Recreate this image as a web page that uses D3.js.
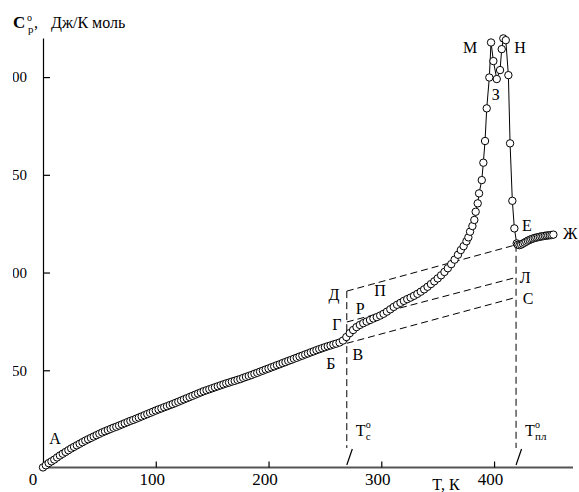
<!DOCTYPE html>
<html lang="ru">
<head>
    <meta charset="UTF-8">
    <title>Cp(T)</title>
</head>
<style>
    body { margin: 0; background: #fff; }
    svg text { font-family: "Liberation Serif", "Times New Roman", serif; fill: #000; }
    .axis--x path { stroke: #555; stroke-width: 2; }
    .axis--x line { stroke: #000; stroke-width: 1.2; }
    .axis--y path, .axis--y line { stroke: #000; stroke-width: 1.2; }
    .axis text { font-size: 17px; }
    .axis--y text { font-size: 15px; }
    .dash { fill: none; stroke: #000; stroke-width: 1; stroke-dasharray: 7,4; }
    .slash { stroke: #000; stroke-width: 1.2; }
    .curve { fill: none; stroke: #000; stroke-width: 1; }
    .pt { fill: #fff; stroke: #000; stroke-width: 1; }
    .lbl { font-size: 16px; }
</style>
<body>
<div id="chart"></div>
<script src="https://d3js.org/d3.v7.min.js"></script>
<script>
// temperature, K
var tempK = [0, 2.5, 5, 7.5, 10, 12.5, 15, 17.5, 20, 22.5, 25, 27.5, 30, 32.5, 35, 37.5, 40, 42.5, 45, 47.5,
    50, 52.5, 55, 57.5, 60, 62.5, 65, 67.5, 70, 72.5, 75, 77.5, 80, 82.5, 85, 87.5, 90, 92.5, 95, 97.5,
    100, 102.5, 105, 107.5, 110, 112.5, 115, 117.5, 120, 122.5, 125, 127.5, 130, 132.5, 135, 137.5, 140, 142.5, 145, 147.5,
    150, 152.5, 155, 157.5, 160, 162.5, 165, 167.5, 170, 172.5, 175, 177.5, 180, 182.5, 185, 187.5, 190, 192.5, 195, 197.5,
    200, 202.5, 205, 207.5, 210, 212.5, 215, 217.5, 220, 222.5, 225, 227.5, 230, 232.5, 235, 237.5, 240, 242.5, 245, 247.5,
    250, 252.5, 255, 257.5, 260, 263, 266, 269, 272, 275, 278, 281, 284, 287, 290, 293, 296, 299,
    302, 305, 308, 311, 314, 317, 320, 323, 326, 329, 332, 335, 338, 341, 344, 347, 350, 353, 356, 359,
    362, 365, 368, 370.5, 373, 375.5, 377.2, 378.7, 380.8, 382.5, 383.7, 385.5, 386.7, 389.1, 390.5, 392, 393.5, 395.8,
    397.3, 399.4, 402.4, 405.3, 406.8, 408.2, 410.4, 412.7, 414.2, 416.2, 418, 420.1,
    421, 422.5, 424, 425.5, 427, 428.5, 430, 431.5, 433, 434.5, 436, 437.5, 439, 440.5, 442, 443.5, 445, 446.5, 448, 449.5, 451, 452.6];

// heat capacity Cp, J/(K mol)
var cpVals = [0.3, 1.4, 2.5, 3.4, 4.3, 5.4, 6.4, 7.3, 8.2, 9.1, 10, 10.8, 11.6, 12.4, 13.2, 14, 14.7, 15.4, 16.1, 16.8,
    17.5, 18.2, 18.8, 19.4, 20, 20.6, 21.1, 21.7, 22.3, 22.9, 23.5, 24.1, 24.6, 25.2, 25.8, 26.4, 27, 27.6, 28.2, 28.8,
    29.4, 30, 30.5, 31.1, 31.6, 32.2, 32.7, 33.3, 33.9, 34.5, 35.1, 35.7, 36.3, 36.9, 37.5, 38.1, 38.7, 39.3, 39.8, 40.3,
    40.8, 41.3, 41.8, 42.3, 42.8, 43.3, 43.7, 44.2, 44.6, 45.1, 45.5, 46.1, 46.6, 47.1, 47.6, 48.2, 48.7, 49.3, 49.8, 50.4,
    50.9, 51.5, 52, 52.6, 53.1, 53.7, 54.2, 54.8, 55.3, 55.9, 56.4, 57, 57.5, 58.1, 58.6, 59.2, 59.7, 60.3, 60.8, 61.3,
    61.8, 62.3, 62.7, 63.2, 63.6, 64.2, 65.2, 67, 69, 70.6, 72.1, 73.2, 74.1, 74.9, 75.7, 76.5, 77.2, 78,
    78.9, 80, 81.2, 82.4, 83.5, 84.5, 85.5, 86.4, 87.2, 88.1, 89.1, 90.2, 91.4, 92.7, 94.1, 95.5, 97, 98.6, 100.3, 102.2,
    104.3, 106.6, 109.1, 111.5, 113.5, 116, 118, 120.9, 123.8, 126.9, 131.1, 135.4, 140.5, 147.3, 156.2, 167.3, 184, 199.8,
    217.7, 208.2, 199, 203.6, 214.3, 219.8, 218.9, 201, 166.1, 136.7, 122.6, 114.9,
    114.2, 114, 114.3, 114.8, 115.3, 115.8, 116.3, 116.7, 117.1, 117.4, 117.7, 117.9, 118.1, 118.3, 118.5, 118.6, 118.8, 118.9, 119, 119.1, 119.2, 119.4];

var xTicks = [100, 200, 300, 400];
var yTicks = [50, 100, 150, 200];

// glass transition and melting temperatures
var tGlass = 269.4;
var tMelt = 419.5;

// dashed construction lines: [T1, Cp1, T2, Cp2]
var dashLines = [
    [tGlass, 90.5, tMelt, 114.2],   // Д - Е
    [tGlass, 74.7, tMelt, 97.5],    // Г - Л
    [tGlass, 63.8, tMelt, 87.3]     // В - С
];

// letter marks: text, T, Cp
var marks = [
    ["А", 10.6, 12.5], ["Б", 255.2, 50.9], ["В", 279.1, 55.5], ["Г", 260.5, 70.8],
    ["Р", 281.2, 78.8], ["Д", 258.1, 85.9], ["П", 298.9, 88], ["С", 430.2, 83.9],
    ["Л", 427.5, 94.4], ["Е", 429, 121.2], ["Ж", 467.4, 117.4], ["М", 378.7, 212.3],
    ["Н", 423, 212.3], ["З", 401.5, 188.2]
];

var width = 579, height = 492;
var svg = d3.select("#chart").append("svg").attr("width", width).attr("height", height);

var x = d3.scaleLinear().domain([0, 470]).range([43, 573]);
var y = d3.scaleLinear().domain([0, 220]).range([468, 38]);

svg.append("defs").append("clipPath").attr("id", "leftcut")
    .append("rect").attr("x", 13).attr("y", 0).attr("width", width).attr("height", height);

drawAxes();
drawDashes();
drawCurve();
drawLabels();

function drawAxes() {
    var gy = svg.append("g").attr("clip-path", "url(#leftcut)")
        .append("g")
        .attr("class", "axis axis--y")
        .attr("transform", "translate(" + x(0) + ",0)")
        .call(d3.axisLeft(y).tickValues(yTicks).tickSizeInner(-7).tickSizeOuter(0).tickPadding(16));
    gy.attr("font-family", null).attr("font-size", null);

    var gx = svg.append("g")
        .attr("class", "axis axis--x")
        .attr("transform", "translate(0," + (y(0) - 0.5) + ")")
        .call(d3.axisBottom(x).tickValues(xTicks).tickSizeInner(-6).tickSizeOuter(0).tickPadding(5));
    gx.attr("font-family", null).attr("font-size", null);
    gx.select(".domain").attr("d", "M" + x(0) + ",0H573");
    gx.selectAll("text").attr("dx", -4);

    svg.append("text").attr("x", 33).attr("y", 485).attr("text-anchor", "middle")
        .style("font-size", "17px").text("0");

    svg.append("text").attr("x", 446).attr("y", 490).attr("text-anchor", "middle")
        .style("font-size", "16px").text("T, К");

    // y axis title
    svg.append("text").attr("x", 13).attr("y", 28).style("font-size", "17px")
        .style("font-weight", "bold").text("C");
    svg.append("text").attr("x", 27).attr("y", 21).style("font-size", "10px").text("o");
    svg.append("text").attr("x", 28).attr("y", 33).style("font-size", "11px").text("p");
    svg.append("text").attr("x", 34).attr("y", 28).style("font-size", "16px").text(",");
    svg.append("text").attr("x", 51).attr("y", 28).style("font-size", "16px").text("Дж/К моль");
}

function drawDashes() {
    svg.selectAll(".dline").data(dashLines).enter().append("line")
        .attr("class", "dash")
        .attr("x1", function(d) { return x(d[0]); })
        .attr("y1", function(d) { return y(d[1]); })
        .attr("x2", function(d) { return x(d[2]); })
        .attr("y2", function(d) { return y(d[3]); });

    var verts = [[tGlass, 90.5], [tMelt, 114.2]];
    svg.selectAll(".vline").data(verts).enter().append("line")
        .attr("class", "dash")
        .attr("x1", function(d) { return x(d[0]); })
        .attr("y1", function(d) { return y(d[1]); })
        .attr("x2", function(d) { return x(d[0]); })
        .attr("y2", 448);
    svg.selectAll(".slash").data(verts).enter().append("line")
        .attr("class", "slash")
        .attr("x1", function(d) { return x(d[0]) + 5.5; })
        .attr("y1", 449)
        .attr("x2", function(d) { return x(d[0]); })
        .attr("y2", 465);

    var tl = [[tGlass, "с"], [tMelt, "пл"]];
    tl.forEach(function(d) {
        svg.append("text").attr("class", "lbl").attr("x", x(d[0]) + 9).attr("y", 436).text("T");
        svg.append("text").attr("x", x(d[0]) + 19).attr("y", 428).style("font-size", "10px").text("o");
        svg.append("text").attr("x", x(d[0]) + 19).attr("y", 440).style("font-size", "11px").text(d[1]);
    });
}

function drawCurve() {
    var pts = tempK.map(function(t, i) { return [t, cpVals[i]]; });
    var line = d3.line().x(function(d) { return x(d[0]); }).y(function(d) { return y(d[1]); });
    svg.append("path").datum(pts).attr("class", "curve").attr("d", line);
    svg.selectAll(".pt").data(pts).enter().append("circle")
        .attr("class", "pt")
        .attr("cx", function(d) { return x(d[0]); })
        .attr("cy", function(d) { return y(d[1]); })
        .attr("r", 3.7);
}

function drawLabels() {
    svg.selectAll(".mk").data(marks).enter().append("text")
        .attr("class", "lbl")
        .attr("text-anchor", "middle")
        .attr("x", function(d) { return x(d[1]); })
        .attr("y", function(d) { return y(d[2]); })
        .text(function(d) { return d[0]; });
}
</script>
</body>
</html>
